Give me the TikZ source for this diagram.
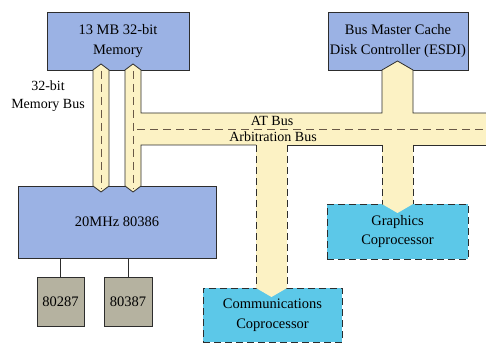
\documentclass[tikz,border=0pt]{standalone}
\usepackage{fontspec}
\setmainfont{Liberation Serif}
\usetikzlibrary{calc}
\definecolor{boxblue}{RGB}{155,178,228}
\definecolor{tubefill}{RGB}{252,242,196}
\definecolor{cyanbox}{RGB}{92,200,232}
\definecolor{graybox}{RGB}{181,178,160}
\definecolor{edge}{RGB}{45,45,45}
\definecolor{dashcol}{RGB}{105,88,70}
\tikzset{
  txt/.style={font=\fontsize{14.5}{19.5}\selectfont, align=center, text=black},
  bluebox/.style={txt, draw=edge, line width=0.7pt, fill=boxblue, inner sep=0pt},
  cyanbox/.style={txt, draw=edge, line width=0.9pt, fill=cyanbox, inner sep=0pt, dash pattern=on 7pt off 4pt},
  fpubox/.style={txt, draw=edge, line width=0.7pt, fill=graybox, inner sep=0pt},
  tubeedge/.style={draw=edge, line width=0.8pt, line join=miter},
  tubedash/.style={draw=edge, line width=0.8pt, dash pattern=on 7pt off 4pt},
  centerdash/.style={draw=dashcol, line width=0.8pt, dash pattern=on 8pt off 5pt},
  lbl/.style={font=\fontsize{14}{18}\selectfont, align=center, inner sep=0pt}
}
\begin{document}
\begin{tikzpicture}[x=1pt,y=-1pt]
\useasboundingbox (0,0) rectangle (486,344);
\fill[white] (0,0) rectangle (486,344);

% boxes
\node[bluebox, minimum width=142pt, minimum height=58pt] (mem) at (118,41) {13 MB 32-bit\\Memory};
\node[bluebox, minimum width=140pt, minimum height=58pt] (disk) at (398,41) {Bus Master Cache\\Disk Controller (ESDI)};
\node[bluebox, minimum width=198pt, minimum height=72pt] (cpu) at (117,222) {20MHz 80386};
\node[fpubox, minimum width=47pt, minimum height=49pt] (fpua) at (60.5,301.5) {80287};
\node[fpubox, minimum width=48pt, minimum height=49pt] (fpub) at (128,301.5) {80387};
\node[cyanbox, minimum width=141pt, minimum height=55pt] (gfx) at (397.5,231.5) {Graphics\\Coprocessor};
\node[cyanbox, minimum width=139pt, minimum height=54pt] (comm) at (272.5,315) {Communications\\Coprocessor};

% coprocessor links
\draw[edge, line width=0.7pt] (cpu.south -| fpua.north) -- (fpua.north);
\draw[edge, line width=0.7pt] (cpu.south -| fpub.north) -- (fpub.north);

% left memory bus tube
\path[fill=tubefill, tubeedge] (93,70) -- (101,64) -- (109,70) -- (109,186) -- (101,192) -- (93,186) -- cycle;
\draw[centerdash] (101,71) -- (101,189);

% right memory tube + AT bus + branches (fill)
\fill[tubefill] (125,70) -- (133,64) -- (141,70) -- (141,113) -- (382,113) -- (382,70) -- (397.5,61) -- (413,70) -- (413,113) -- (486,113) -- (486,145) -- (413,145) -- (413,204) -- (397.5,213) -- (382,204) -- (382,145) -- (287,145) -- (287,288) -- (271.5,297) -- (256,288) -- (256,145) -- (141,145) -- (141,186) -- (133,192) -- (125,186) -- cycle;
% solid edges
\draw[tubeedge] (125,186) -- (125,70) -- (133,64) -- (141,70) -- (141,113) -- (382,113) -- (382,70) -- (397.5,61) -- (413,70) -- (413,113) -- (486,113);
\draw[tubeedge] (486,145) -- (413,145);
\draw[tubeedge] (382,145) -- (287,145);
\draw[tubeedge] (256,145) -- (141,145) -- (141,186) -- (133,192) -- (125,186);
% dashed branch edges
\draw[tubedash] (413,145) -- (413,204);
\draw[tubedash] (382,145) -- (382,204);
\draw[tubedash] (287,145) -- (287,288);
\draw[tubedash] (256,145) -- (256,288);
% centre dashes
\draw[centerdash] (133,71) -- (133,189);
\draw[centerdash] (137,129) -- (486,129);

% labels
\node[lbl] (lmb) at (48,96) {32-bit\\Memory Bus};
\node[lbl] (lat) at (272,121) {AT Bus};
\node[lbl] (larb) at (273,137) {Arbitration Bus};
\end{tikzpicture}
\end{document}
